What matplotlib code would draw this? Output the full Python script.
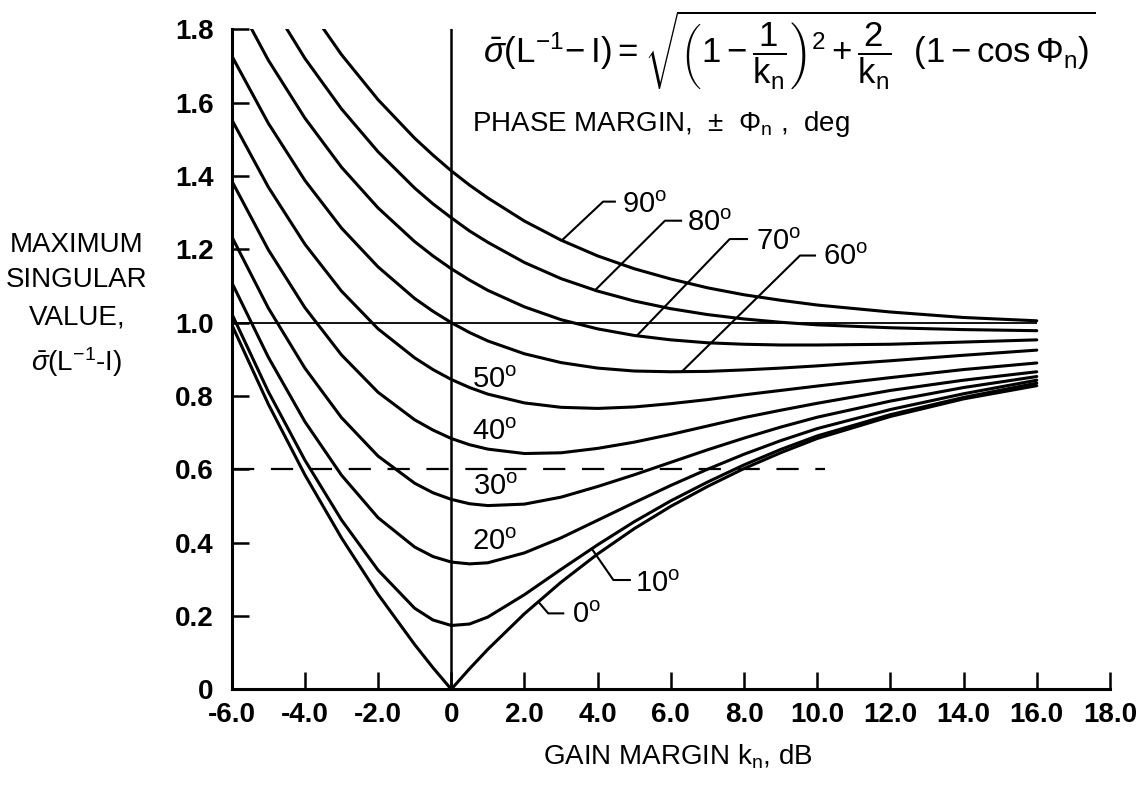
import numpy as np
import matplotlib
matplotlib.use('Agg')
import matplotlib.pyplot as plt

# ---------------- data ----------------
gain_db = [-6, -5, -4, -3, -2, -1, -0.5, 0, 0.5, 1, 2, 3, 4, 5, 6, 7, 8, 9, 10, 12, 14, 16]

phase_deg = [0, 10, 20, 30, 40, 50, 60, 70, 80, 90]

sigma_0 = [0.995, 0.778, 0.585, 0.413, 0.259, 0.122, 0.059, 0.0, 0.056, 0.109, 0.206, 0.292,
           0.369, 0.438, 0.499, 0.553, 0.602, 0.645, 0.684, 0.744, 0.792, 0.828]
sigma_10 = [1.025, 0.812, 0.625, 0.462, 0.325, 0.221, 0.189, 0.174, 0.178, 0.197, 0.258, 0.327,
            0.394, 0.457, 0.514, 0.565, 0.612, 0.654, 0.691, 0.749, 0.796, 0.835]
sigma_20 = [1.110, 0.906, 0.730, 0.584, 0.468, 0.388, 0.362, 0.347, 0.342, 0.345, 0.372, 0.413,
            0.461, 0.509, 0.556, 0.600, 0.641, 0.678, 0.711, 0.763, 0.806, 0.843]
sigma_30 = [1.235, 1.040, 0.876, 0.741, 0.636, 0.562, 0.536, 0.518, 0.506, 0.501, 0.505, 0.524,
            0.553, 0.585, 0.619, 0.653, 0.685, 0.715, 0.742, 0.786, 0.823, 0.853]
sigma_40 = [1.387, 1.199, 1.041, 0.912, 0.810, 0.735, 0.707, 0.684, 0.667, 0.655, 0.643, 0.645,
            0.657, 0.674, 0.695, 0.718, 0.741, 0.761, 0.780, 0.815, 0.843, 0.866]
sigma_50 = [1.554, 1.370, 1.214, 1.086, 0.983, 0.904, 0.872, 0.845, 0.823, 0.805, 0.781, 0.769,
            0.766, 0.770, 0.779, 0.790, 0.803, 0.815, 0.827, 0.850, 0.872, 0.890]
sigma_60 = [1.728, 1.544, 1.388, 1.258, 1.152, 1.066, 1.031, 1.000, 0.973, 0.950, 0.915, 0.891,
            0.876, 0.868, 0.866, 0.867, 0.871, 0.876, 0.882, 0.896, 0.911, 0.925]
sigma_70 = [1.902, 1.716, 1.558, 1.424, 1.313, 1.221, 1.182, 1.147, 1.116, 1.088, 1.043, 1.008,
            0.983, 0.965, 0.953, 0.945, 0.941, 0.939, 0.939, 0.941, 0.947, 0.953]
sigma_80 = [2.071, 1.883, 1.721, 1.583, 1.466, 1.367, 1.324, 1.286, 1.250, 1.219, 1.164, 1.120,
            1.086, 1.059, 1.038, 1.022, 1.010, 1.001, 0.994, 0.986, 0.981, 0.978]
sigma_90 = [2.232, 2.040, 1.874, 1.731, 1.608, 1.503, 1.457, 1.414, 1.375, 1.340, 1.277, 1.225,
            1.182, 1.147, 1.119, 1.095, 1.076, 1.061, 1.048, 1.029, 1.014, 1.005]

reference_level = 1.0
dashed_level = 0.6
dashed_end_db = 10.2
ref_end_db = 16

x_ticks = [-6, -4, -2, 0, 2, 4, 6, 8, 10, 12, 14, 16, 18]
x_tick_labels = ['-6.0', '-4.0', '-2.0', '0', '2.0', '4.0', '6.0', '8.0', '10.0', '12.0',
                 '14.0', '16.0', '18.0']
y_ticks = [0, 0.2, 0.4, 0.6, 0.8, 1.0, 1.2, 1.4, 1.6, 1.8]
y_tick_labels = ['0', '0.2', '0.4', '0.6', '0.8', '1.0', '1.2', '1.4', '1.6', '1.8']

# ---------------- style ----------------
plt.rcParams['font.family'] = ['Liberation Sans', 'DejaVu Sans']
plt.rcParams['mathtext.fontset'] = 'custom'
plt.rcParams['mathtext.rm'] = 'Liberation Sans'
plt.rcParams['mathtext.it'] = 'Liberation Sans:italic'
plt.rcParams['mathtext.bf'] = 'Liberation Sans:bold'
plt.rcParams['mathtext.sf'] = 'Liberation Sans'
plt.rcParams['lines.scale_dashes'] = False

fig = plt.figure(figsize=(11.39, 7.92), dpi=100)
ax = fig.add_axes([0.2034, 0.1297, 0.7711, 0.8333])
ax.set_xlim(-6, 18)
ax.set_ylim(0, 1.8)
for s in ['top', 'right']:
    ax.spines[s].set_visible(False)
for s in ['left', 'bottom']:
    ax.spines[s].set_linewidth(2.2)

ax.set_xticks(x_ticks)
ax.set_xticklabels(x_tick_labels)
ax.set_yticks(y_ticks)
ax.set_yticklabels(y_tick_labels)
ax.tick_params(axis='both', direction='in', length=12, width=1.8, labelsize=20)
ax.tick_params(axis='x', pad=9)
ax.tick_params(axis='y', pad=13)
for lbl in ax.get_xticklabels() + ax.get_yticklabels():
    lbl.set_fontweight('bold')

curves = [sigma_0, sigma_10, sigma_20, sigma_30, sigma_40,
          sigma_50, sigma_60, sigma_70, sigma_80, sigma_90]
for s in curves:
    ax.plot(gain_db, s, color='black', lw=2.2, solid_capstyle='round',
            solid_joinstyle='round')

# reference lines
ax.axvline(0, color='black', lw=1.8)
ax.hlines(reference_level, -6, ref_end_db, color='black', lw=1.3)
ax.plot([-6, dashed_end_db], [dashed_level, dashed_level], color='black', lw=1.6,
        dashes=(16, 12))

def deg(v):
    return f'{v}$^{{\\mathrm{{o}}}}$'

# labels placed directly on curves (20..50)
inline = {20: (0.56, 0.380), 30: (0.60, 0.530), 40: (0.56, 0.680), 50: (0.56, 0.821)}
for p, (tx, ty) in inline.items():
    ax.text(tx, ty, deg(p), fontsize=21, ha='left', va='baseline')

# labels with leader lines: start x on curve, bend point, end x, text pos
leaders = {
    90: (3.02, (4.15, 1.330), 4.47, (4.67, 1.298)),
    80: (3.93, (5.84, 1.278), 6.28, (6.43, 1.251)),
    70: (5.07, (7.61, 1.228), 8.08, (8.33, 1.198)),
    60: (6.30, (9.53, 1.183), 9.94, (10.17, 1.157)),
    10: (3.84, (4.43, 0.298), 4.88, (5.02, 0.265)),
    0: (2.38, (2.65, 0.207), 3.06, (3.29, 0.180)),
}
for p, (x0, (bx, by), ex, (tx, ty)) in leaders.items():
    y0 = float(np.interp(x0, gain_db, curves[phase_deg.index(p)]))
    ax.plot([x0, bx, ex], [y0, by, by], color='black', lw=1.5)
    ax.text(tx, ty, deg(p), fontsize=21, ha='left', va='baseline')

# formula and annotations
formula = (r'$\bar{\sigma}(\mathrm{L}^{-1}\!-\mathrm{I}) = '
           r'\sqrt{\left(1-\dfrac{1}{\mathrm{k_n}}\right)^2+\dfrac{2}{\mathrm{k_n}}\ \ '
           r'(1-\cos\Phi_\mathrm{n})}$')
fig.text(483 / 1139, 1 - 50 / 792, formula, fontsize=25, ha='left', va='center')
fig.text(472 / 1139, 1 - 124 / 792, r'PHASE MARGIN,  $\pm$  $\Phi_\mathrm{n}$ ,  deg',
         fontsize=20, ha='left', va='center')

# y-axis label
ylab_x = 77 / 1139
fig.text(ylab_x, 1 - 245 / 792, 'MAXIMUM', fontsize=20, ha='center', va='center')
fig.text(ylab_x, 1 - 280 / 792, 'SINGULAR', fontsize=20, ha='center', va='center')
fig.text(ylab_x, 1 - 317 / 792, 'VALUE,', fontsize=20, ha='center', va='center')
fig.text(ylab_x, 1 - 362 / 792, r'$\bar{\sigma}$(L$^{-1}$-I)', fontsize=20,
         ha='center', va='center')

# x-axis label
fig.text(678 / 1139, 1 - 757 / 792, r'GAIN MARGIN k$_\mathrm{n}$, dB', fontsize=20,
         ha='center', va='center')

fig.savefig('out.png', dpi=100)
